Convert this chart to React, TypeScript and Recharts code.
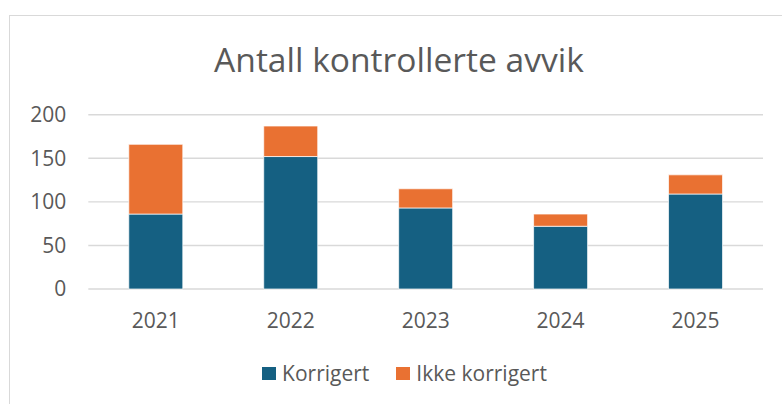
import { BarChart, Bar, XAxis, YAxis, CartesianGrid, Legend } from 'recharts';

const years = ['2021', '2022', '2023', '2024', '2025'];
const korrigert = [86, 152, 93, 72, 109];
const ikkeKorrigert = [80, 35, 22, 14, 22];
const yTicks = [0, 50, 100, 150, 200];

const data = years.map((year, i) => ({
  year,
  korrigert: korrigert[i],
  ikkeKorrigert: ikkeKorrigert[i],
}));

const FONT = '"Open Sans", "Liberation Sans", sans-serif';
const TEXT = '#595959';
const BLUE = '#156082';
const ORANGE = '#E97132';

function LegendBox() {
  const items = [
    { label: 'Korrigert', color: BLUE },
    { label: 'Ikke korrigert', color: ORANGE },
  ];
  return (
    <div
      style={{
        height: 63,
        width: 782,
        display: 'flex',
        justifyContent: 'center',
        alignItems: 'flex-start',
        paddingLeft: 27,
        boxSizing: 'border-box',
        fontFamily: FONT,
        fontSize: 21,
        color: TEXT,
      }}
    >
      {items.map((it, i) => (
        <div
          key={it.label}
          style={{ display: 'flex', alignItems: 'center', marginLeft: i ? 27 : 0, marginTop: 18, lineHeight: '28px' }}
        >
          <span style={{ width: 14, height: 13, background: it.color, marginRight: 6, display: 'inline-block' }} />
          <span>{it.label}</span>
        </div>
      ))}
    </div>
  );
}

export default function App() {
  return (
    <div style={{ position: 'absolute', left: 0, top: 0, width: 782, height: 404, background: '#fff', overflow: 'hidden' }}>
      {/* chart frame, runs off the right and bottom edges */}
      <div style={{ position: 'absolute', left: 9, top: 15, width: 900, height: 500, border: '1px solid #d9d9d9' }} />
      <svg style={{ position: 'absolute', left: 0, top: 0 }} width={782} height={100}>
        <text x={399} y={72} textAnchor="middle" fontFamily={FONT} fontSize={33.6} fill={TEXT}>
          Antall kontrollerte avvik
        </text>
      </svg>
      <div style={{ position: 'absolute', left: 0, top: 0 }}>
        <BarChart
          width={782}
          height={404}
          data={data}
          margin={{ top: 114.7, right: 19, left: 0, bottom: 0 }}
          barCategoryGap="30%"
        >
          <CartesianGrid vertical={false} stroke="#d9d9d9" strokeWidth={1.4} />
          <XAxis
            dataKey="year"
            axisLine={false}
            tickLine={false}
            height={52}
            tickMargin={18}
            tick={{ fill: TEXT, fontSize: 21, fontFamily: FONT }}
          />
          <YAxis
            width={88.3}
            domain={[0, 200]}
            ticks={yTicks}
            axisLine={false}
            tickLine={false}
            tickMargin={16}
            tick={{ fill: TEXT, fontSize: 21, fontFamily: FONT }}
          />
          <Legend verticalAlign="bottom" content={() => <LegendBox />} />
          <Bar dataKey="korrigert" stackId="a" fill={BLUE} stroke="#ffffff" strokeWidth={0.7} isAnimationActive={false} />
          <Bar dataKey="ikkeKorrigert" stackId="a" fill={ORANGE} stroke="#ffffff" strokeWidth={0.7} isAnimationActive={false} />
        </BarChart>
      </div>
    </div>
  );
}
